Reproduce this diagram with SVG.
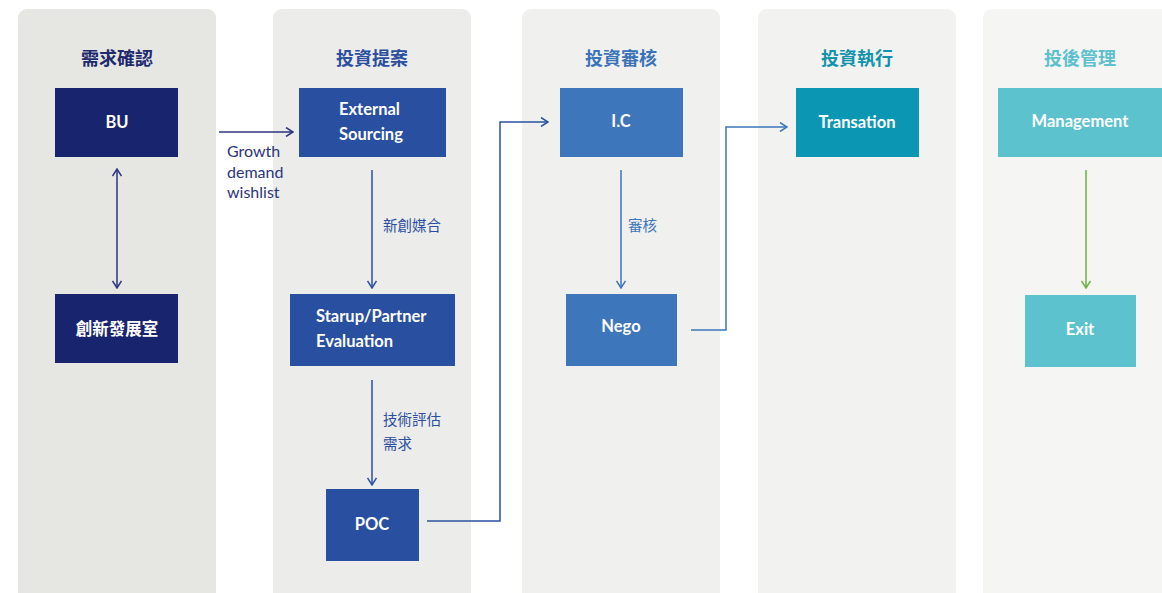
<svg xmlns="http://www.w3.org/2000/svg" width="1162" height="593" viewBox="0 0 1162 593">
<defs>
<style>
.title{font-family:"Noto Sans CJK TC","Noto Sans",sans-serif;font-weight:700;font-size:18px;text-anchor:middle}
.lbl{font-family:Lato,"Noto Sans CJK TC",sans-serif;font-weight:700;font-size:16.5px;fill:#ffffff}
.lblc{font-family:"Noto Sans CJK TC",sans-serif;font-weight:700;font-size:16.5px;fill:#ffffff}
.note{font-family:"Noto Sans CJK TC",sans-serif;font-size:14.5px}
.eng{font-family:Lato,"Noto Sans",sans-serif;font-size:16px;fill:#2b3480}
.mid{text-anchor:middle}
.conn{fill:none;stroke-width:1.5}
</style>
<marker id="mNavy" viewBox="-8 -5 9 10" refX="0" refY="0" markerWidth="9" markerHeight="10" markerUnits="userSpaceOnUse" orient="auto-start-reverse"><path d="M-7,-4.5 L0,0 L-7,4.5" fill="none" stroke="#2b3480" stroke-width="1.5"/></marker>
<marker id="mBlue" viewBox="-8 -5 9 10" refX="0" refY="0" markerWidth="9" markerHeight="10" markerUnits="userSpaceOnUse" orient="auto-start-reverse"><path d="M-7,-4.5 L0,0 L-7,4.5" fill="none" stroke="#2a51a0" stroke-width="1.5"/></marker>
<marker id="mMid" viewBox="-8 -5 9 10" refX="0" refY="0" markerWidth="9" markerHeight="10" markerUnits="userSpaceOnUse" orient="auto-start-reverse"><path d="M-7,-4.5 L0,0 L-7,4.5" fill="none" stroke="#3d76ba" stroke-width="1.5"/></marker>
<marker id="mGreen" viewBox="-8 -5 9 10" refX="0" refY="0" markerWidth="9" markerHeight="10" markerUnits="userSpaceOnUse" orient="auto-start-reverse"><path d="M-7,-4.5 L0,0 L-7,4.5" fill="none" stroke="#6ab23e" stroke-width="1.5"/></marker>
</defs>
<rect width="1162" height="593" fill="#ffffff"/>

<g id="lanes">
<rect x="18" y="9" width="198" height="592" rx="9" fill="#e6e6e3"/>
<rect x="273" y="9" width="198" height="592" rx="9" fill="#ececea"/>
<rect x="522" y="9" width="198" height="592" rx="9" fill="#f0f0ee"/>
<rect x="758" y="9" width="198" height="592" rx="9" fill="#f2f2f0"/>
<rect x="983" y="9" width="198" height="592" rx="9" fill="#f5f5f4"/>
<text class="title" x="117" y="65" fill="#1e2a6e">需求確認</text>
<text class="title" x="372" y="65" fill="#2a4f9e">投資提案</text>
<text class="title" x="621" y="65" fill="#3b73b9">投資審核</text>
<text class="title" x="857" y="65" fill="#1193ad">投資執行</text>
<text class="title" x="1080" y="65" fill="#5cc0cd">投後管理</text>
</g>

<g id="connectors">
<line class="conn" x1="219" y1="132" x2="293" y2="132" stroke="#2b3480" marker-end="url(#mNavy)"/>
<line class="conn" x1="117" y1="169" x2="117" y2="288" stroke="#2b3480" marker-start="url(#mNavy)" marker-end="url(#mNavy)"/>
<line class="conn" x1="372" y1="170" x2="372" y2="288" stroke="#2a51a0" marker-end="url(#mBlue)"/>
<line class="conn" x1="372" y1="380" x2="372" y2="485" stroke="#2a51a0" marker-end="url(#mBlue)"/>
<polyline class="conn" points="427,521 500,521 500,122 548,122" stroke="#2a51a0" marker-end="url(#mBlue)"/>
<line class="conn" x1="621" y1="170" x2="621" y2="288" stroke="#3d76ba" marker-end="url(#mMid)"/>
<polyline class="conn" points="691,330 726,330 726,127 787,127" stroke="#3d76ba" marker-end="url(#mMid)"/>
<line class="conn" x1="1086" y1="170" x2="1086" y2="288" stroke="#6ab23e" marker-end="url(#mGreen)"/>
<text class="eng" x="227" y="157">Growth</text>
<text class="eng" x="227" y="178">demand</text>
<text class="eng" x="227" y="198">wishlist</text>
<text class="note" x="383" y="231" fill="#2a4f9e">新創媒合</text>
<text class="note" x="383" y="425" fill="#2a4f9e">技術評估</text>
<text class="note" x="383" y="449" fill="#2a4f9e">需求</text>
<text class="note" x="628" y="231" fill="#3d76ba">審核</text>
</g>

<g id="node-bu">
<rect x="55" y="88" width="123" height="69" fill="#19246e"/>
<text class="lbl mid" x="117" y="128">BU</text>
</g>
<g id="node-innovation">
<rect x="55" y="294" width="123" height="69" fill="#19246e"/>
<text class="lblc mid" x="117" y="335">創新發展室</text>
</g>
<g id="node-external">
<rect x="299" y="88" width="147" height="69" fill="#2950a0"/>
<text class="lbl" x="339" y="115">External</text>
<text class="lbl" x="339" y="140">Sourcing</text>
</g>
<g id="node-starup">
<rect x="290" y="294" width="165" height="72" fill="#2950a0"/>
<text class="lbl" x="316" y="322">Starup/Partner</text>
<text class="lbl" x="316" y="347">Evaluation</text>
</g>
<g id="node-poc">
<rect x="326" y="489" width="93" height="72" fill="#2950a0"/>
<text class="lbl mid" x="372" y="530">POC</text>
</g>
<g id="node-ic">
<rect x="560" y="88" width="123" height="69" fill="#3d76ba"/>
<text class="lbl mid" x="621" y="127">I.C</text>
</g>
<g id="node-nego">
<rect x="566" y="294" width="111" height="72" fill="#3d76ba"/>
<text class="lbl mid" x="621" y="332">Nego</text>
</g>
<g id="node-transation">
<rect x="796" y="88" width="123" height="69" fill="#0b97b3"/>
<text class="lbl mid" x="857" y="128">Transation</text>
</g>
<g id="node-management">
<rect x="998" y="88" width="170" height="69" fill="#5cc2cd"/>
<text class="lbl mid" x="1080" y="127">Management</text>
</g>
<g id="node-exit">
<rect x="1025" y="295" width="111" height="72" fill="#5cc2cd"/>
<text class="lbl mid" x="1080" y="335">Exit</text>
</g>
</svg>
